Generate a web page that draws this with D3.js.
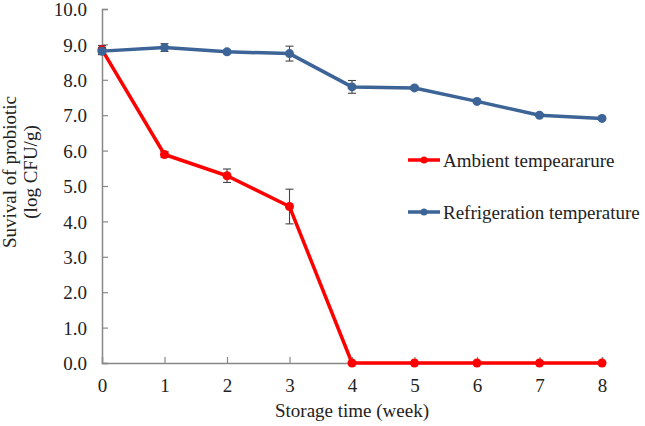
<!DOCTYPE html>
<html>
<head>
  <script src="https://d3js.org/d3.v7.min.js"></script>
</head>
<body style="margin:0">
  <svg width="645" height="426"></svg>
  <script>
    // Data
    const weeks = [0, 1, 2, 3, 4, 5, 6, 7, 8];
    const ambient = [8.85, 5.89, 5.29, 4.42, 0, 0, 0, 0, 0];
    const ambientErr = [0.12, 0.08, 0.19, 0.49, 0, 0, 0, 0, 0];
    const refrig = [8.81, 8.91, 8.79, 8.74, 7.80, 7.77, 7.39, 7.00, 6.91];
    const refrigErr = [0.10, 0.11, 0.05, 0.21, 0.18, 0.05, 0.03, 0.03, 0.03];
    const yTicks = [0, 1, 2, 3, 4, 5, 6, 7, 8, 9, 10];

    const series = [
      { name: "Ambient tempeararure", values: ambient, err: ambientErr, color: "#ff0000" },
      { name: "Refrigeration temperature", values: refrig, err: refrigErr, color: "#3c6497" }
    ];

    const margin = { top: 9, right: 43, bottom: 63, left: 102 };
    const width = 645 - margin.left - margin.right;
    const height = 426 - margin.top - margin.bottom;

    const svg = d3.select("svg");
    const g = svg.append("g").attr("transform", `translate(${margin.left},${margin.top})`);

    const x = d3.scaleLinear().domain([0, 8]).range([0, width]);
    const y = d3.scaleLinear().domain([0, 10]).range([height, 0]);

    // Axes (ticks point inward)
    const xAxis = g.append("g")
      .attr("transform", `translate(0,${height})`)
      .call(d3.axisBottom(x).tickValues(weeks).tickSize(-6).tickPadding(16).tickFormat(d3.format("d")));
    const yAxis = g.append("g")
      .call(d3.axisLeft(y).tickValues(yTicks).tickSize(-6).tickPadding(15).tickFormat(d3.format(".1f")));

    [xAxis, yAxis].forEach(a => {
      a.select(".domain").attr("stroke", "#888").attr("stroke-width", 1.5);
      a.selectAll(".tick line").attr("stroke", "#888").attr("stroke-width", 1.2);
      a.selectAll(".tick text").attr("fill", "#222");
    });
    xAxis.select(".tick line").remove();
    yAxis.selectAll(".tick text").attr("dy", "0.35em");

    // Lines, error bars, markers
    const line = d3.line().x((d, i) => x(weeks[i])).y(d => y(d));

    series.forEach(s => {
      g.append("path")
        .datum(s.values)
        .attr("fill", "none")
        .attr("stroke", s.color)
        .attr("stroke-width", 3.5)
        .attr("stroke-linejoin", "round")
        .attr("d", line);

      const eb = g.append("g").attr("stroke", "#444").attr("stroke-width", 1.1);
      s.values.forEach((v, i) => {
        if (s.err[i] <= 0) return;
        const cx = x(weeks[i]);
        const y1 = y(v + s.err[i]), y2 = y(v - s.err[i]);
        eb.append("line").attr("x1", cx).attr("x2", cx).attr("y1", y1).attr("y2", y2);
        eb.append("line").attr("x1", cx - 4).attr("x2", cx + 4).attr("y1", y1).attr("y2", y1);
        eb.append("line").attr("x1", cx - 4).attr("x2", cx + 4).attr("y1", y2).attr("y2", y2);
      });

      g.selectAll(null)
        .data(s.values)
        .enter().append("circle")
        .attr("cx", (d, i) => x(weeks[i]))
        .attr("cy", d => y(d))
        .attr("r", 4.5)
        .attr("fill", s.color);
    });

    // Legend
    const legend = svg.append("g").attr("transform", "translate(408,160)");
    series.forEach((s, i) => {
      const row = legend.append("g").attr("transform", `translate(0,${i * 52})`);
      row.append("line").attr("x1", 0).attr("x2", 32).attr("stroke", s.color).attr("stroke-width", 3.5);
      row.append("circle").attr("cx", 16).attr("r", 3.5).attr("fill", s.color);
      row.append("text").attr("x", 35).attr("dy", "0.35em").attr("fill", "#222").text(s.name);
    });

    // Axis titles
    svg.append("text")
      .attr("x", margin.left + width / 2).attr("y", 417)
      .attr("text-anchor", "middle").attr("fill", "#222")
      .text("Storage time (week)");

    const yt = svg.append("text").attr("transform", "translate(0,172) rotate(-90)")
      .attr("text-anchor", "middle").attr("fill", "#222");
    yt.append("tspan").attr("x", 0).attr("y", 16).text("Suvival of probiotic");
    yt.append("tspan").attr("x", 0).attr("y", 37).text("(log CFU/g)");

    // Times-like font for every text
    svg.selectAll("text")
      .style("font-family", '"Liberation Serif"')
      .style("font-size", "19px");
  </script>
</body>
</html>
